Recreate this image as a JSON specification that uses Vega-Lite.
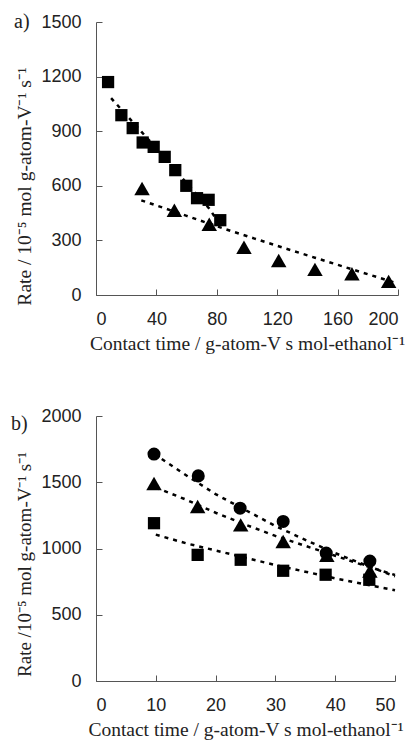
{
  "$schema": "https://vega.github.io/schema/vega-lite/v6.json",
  "background": "white",
  "padding": {"left": 11, "top": 12, "right": 5, "bottom": 2},
  "spacing": 54,
  "config": {
    "view": {"stroke": null},
    "axis": {
      "grid": false,
      "domainColor": "#555",
      "tickColor": "#555",
      "tickSize": -6,
      "labelFont": "Liberation Sans",
      "labelFontSize": 18,
      "labelColor": "#222",
      "labelPadding": 21,
      "format": "d",
      "titleFont": "Liberation Serif",
      "titleFontWeight": "normal",
      "titleColor": "#222",
      "titleFontSize": 19.5,
      "titlePadding": 6
    },
    "title": {"font": "Liberation Serif", "fontSize": 20, "fontWeight": "normal", "color": "#222", "anchor": "start", "frame": "group", "baseline": "middle", "offset": -27},
    "point": {"filled": true, "color": "black", "opacity": 1}
  },
  "datasets": {
    "ptsA": [
      {"series": "A", "t": 8, "rate": 1170},
      {"series": "A", "t": 16.8, "rate": 988},
      {"series": "A", "t": 24.3, "rate": 917},
      {"series": "A", "t": 30.9, "rate": 838},
      {"series": "A", "t": 38.2, "rate": 814},
      {"series": "A", "t": 45.5, "rate": 759},
      {"series": "A", "t": 52.5, "rate": 686},
      {"series": "A", "t": 59.8, "rate": 600},
      {"series": "A", "t": 66.9, "rate": 532},
      {"series": "A", "t": 74.6, "rate": 523},
      {"series": "A", "t": 82.3, "rate": 411},
      {"series": "B", "t": 30.5, "rate": 585},
      {"series": "B", "t": 51.9, "rate": 466},
      {"series": "B", "t": 75, "rate": 389},
      {"series": "B", "t": 98, "rate": 262},
      {"series": "B", "t": 121, "rate": 190},
      {"series": "B", "t": 145, "rate": 141},
      {"series": "B", "t": 169.5, "rate": 117},
      {"series": "B", "t": 193.8, "rate": 75}
    ],
    "fitA": [
      {"fit": "A", "t": 10, "rate": 1082},
      {"fit": "A", "t": 20, "rate": 990},
      {"fit": "A", "t": 30, "rate": 898},
      {"fit": "A", "t": 40, "rate": 805},
      {"fit": "A", "t": 50, "rate": 710},
      {"fit": "A", "t": 60, "rate": 615},
      {"fit": "A", "t": 70, "rate": 520},
      {"fit": "A", "t": 75, "rate": 475},
      {"fit": "A", "t": 79, "rate": 425},
      {"fit": "B", "t": 30, "rate": 520},
      {"fit": "B", "t": 45, "rate": 478},
      {"fit": "B", "t": 60, "rate": 435},
      {"fit": "B", "t": 75, "rate": 392},
      {"fit": "B", "t": 90, "rate": 350},
      {"fit": "B", "t": 105, "rate": 310},
      {"fit": "B", "t": 120, "rate": 270},
      {"fit": "B", "t": 145, "rate": 205},
      {"fit": "B", "t": 170, "rate": 140},
      {"fit": "B", "t": 198, "rate": 68}
    ],
    "ptsB": [
      {"series": "C", "t": 9.7, "rate": 1713},
      {"series": "C", "t": 17.1, "rate": 1548},
      {"series": "C", "t": 24.1, "rate": 1304},
      {"series": "C", "t": 31.3, "rate": 1204},
      {"series": "C", "t": 38.5, "rate": 965},
      {"series": "C", "t": 45.8, "rate": 905},
      {"series": "T", "t": 9.7, "rate": 1490},
      {"series": "T", "t": 17, "rate": 1317},
      {"series": "T", "t": 24.2, "rate": 1178},
      {"series": "T", "t": 31.3, "rate": 1053},
      {"series": "T", "t": 38.6, "rate": 948},
      {"series": "T", "t": 45.8, "rate": 830},
      {"series": "S", "t": 9.7, "rate": 1191},
      {"series": "S", "t": 17, "rate": 952},
      {"series": "S", "t": 24.2, "rate": 915},
      {"series": "S", "t": 31.3, "rate": 832},
      {"series": "S", "t": 38.4, "rate": 802},
      {"series": "S", "t": 45.7, "rate": 764}
    ],
    "fitB": [
      {"fit": "C", "t": 11, "rate": 1675},
      {"fit": "C", "t": 15, "rate": 1555},
      {"fit": "C", "t": 20, "rate": 1410},
      {"fit": "C", "t": 25, "rate": 1290},
      {"fit": "C", "t": 30, "rate": 1170},
      {"fit": "C", "t": 35, "rate": 1065},
      {"fit": "C", "t": 40, "rate": 965},
      {"fit": "C", "t": 45, "rate": 875},
      {"fit": "C", "t": 50, "rate": 790},
      {"fit": "T", "t": 10, "rate": 1460},
      {"fit": "T", "t": 15, "rate": 1370},
      {"fit": "T", "t": 20, "rate": 1270},
      {"fit": "T", "t": 25, "rate": 1180},
      {"fit": "T", "t": 30, "rate": 1095},
      {"fit": "T", "t": 35, "rate": 1020},
      {"fit": "T", "t": 40, "rate": 945},
      {"fit": "T", "t": 45, "rate": 870},
      {"fit": "T", "t": 50, "rate": 800},
      {"fit": "S", "t": 10, "rate": 1105},
      {"fit": "S", "t": 15, "rate": 1040},
      {"fit": "S", "t": 20, "rate": 985},
      {"fit": "S", "t": 25, "rate": 930},
      {"fit": "S", "t": 30, "rate": 875},
      {"fit": "S", "t": 35, "rate": 825},
      {"fit": "S", "t": 40, "rate": 775},
      {"fit": "S", "t": 45, "rate": 730},
      {"fit": "S", "t": 50, "rate": 685}
    ]
  },
  "vconcat": [
    {
      "width": 302,
      "height": 273,
      "title": {"text": "a)", "dx": -82, "offset": -19},
      "encoding": {
        "x": {"field": "t", "type": "quantitative", "scale": {"domain": [0, 200], "nice": false},
              "axis": {"values": [0, 40, 80, 120, 160, 200], "title": "Contact time / g-atom-V s mol-ethanol⁻¹"}},
        "y": {"field": "rate", "type": "quantitative", "scale": {"domain": [0, 1500], "nice": false},
              "axis": {"values": [0, 300, 600, 900, 1200, 1500], "title": "Rate / 10⁻⁵ mol g-atom-V⁻¹ s⁻¹", "titleFontSize": 19.5, "titleY": 164}}
      },
      "layer": [
        {
          "data": {"name": "fitA"},
          "mark": {"type": "line", "color": "black", "strokeWidth": 2.5, "strokeDash": [4, 5]},
          "encoding": {"detail": {"field": "fit", "type": "nominal"}}
        },
        {
          "data": {"name": "ptsA"},
          "transform": [{"filter": "datum.series == 'A'"}],
          "mark": {"type": "point", "shape": "square", "size": 150}
        },
        {
          "data": {"name": "ptsA"},
          "transform": [{"filter": "datum.series == 'B'"}],
          "mark": {"type": "point", "shape": "triangle-up", "size": 240}
        }
      ]
    },
    {
      "width": 299,
      "height": 265,
      "title": {"text": "b)", "dx": -85},
      "encoding": {
        "x": {"field": "t", "type": "quantitative", "scale": {"domain": [0, 50], "nice": false},
              "axis": {"values": [0, 10, 20, 30, 40, 50], "title": "Contact time / g-atom-V s mol-ethanol⁻¹"}},
        "y": {"field": "rate", "type": "quantitative", "scale": {"domain": [0, 2000], "nice": false},
              "axis": {"values": [0, 500, 1000, 1500, 2000], "title": "Rate /10⁻⁵ mol g-atom-V⁻¹ s⁻¹", "titleFontSize": 19, "titleY": 148}}
      },
      "layer": [
        {
          "data": {"name": "fitB"},
          "mark": {"type": "line", "color": "black", "strokeWidth": 2.5, "strokeDash": [4, 5]},
          "encoding": {"detail": {"field": "fit", "type": "nominal"}}
        },
        {
          "data": {"name": "ptsB"},
          "transform": [{"filter": "datum.series == 'C'"}],
          "mark": {"type": "point", "shape": "circle", "size": 170}
        },
        {
          "data": {"name": "ptsB"},
          "transform": [{"filter": "datum.series == 'T'"}],
          "mark": {"type": "point", "shape": "triangle-up", "size": 240}
        },
        {
          "data": {"name": "ptsB"},
          "transform": [{"filter": "datum.series == 'S'"}],
          "mark": {"type": "point", "shape": "square", "size": 150}
        }
      ]
    }
  ]
}
